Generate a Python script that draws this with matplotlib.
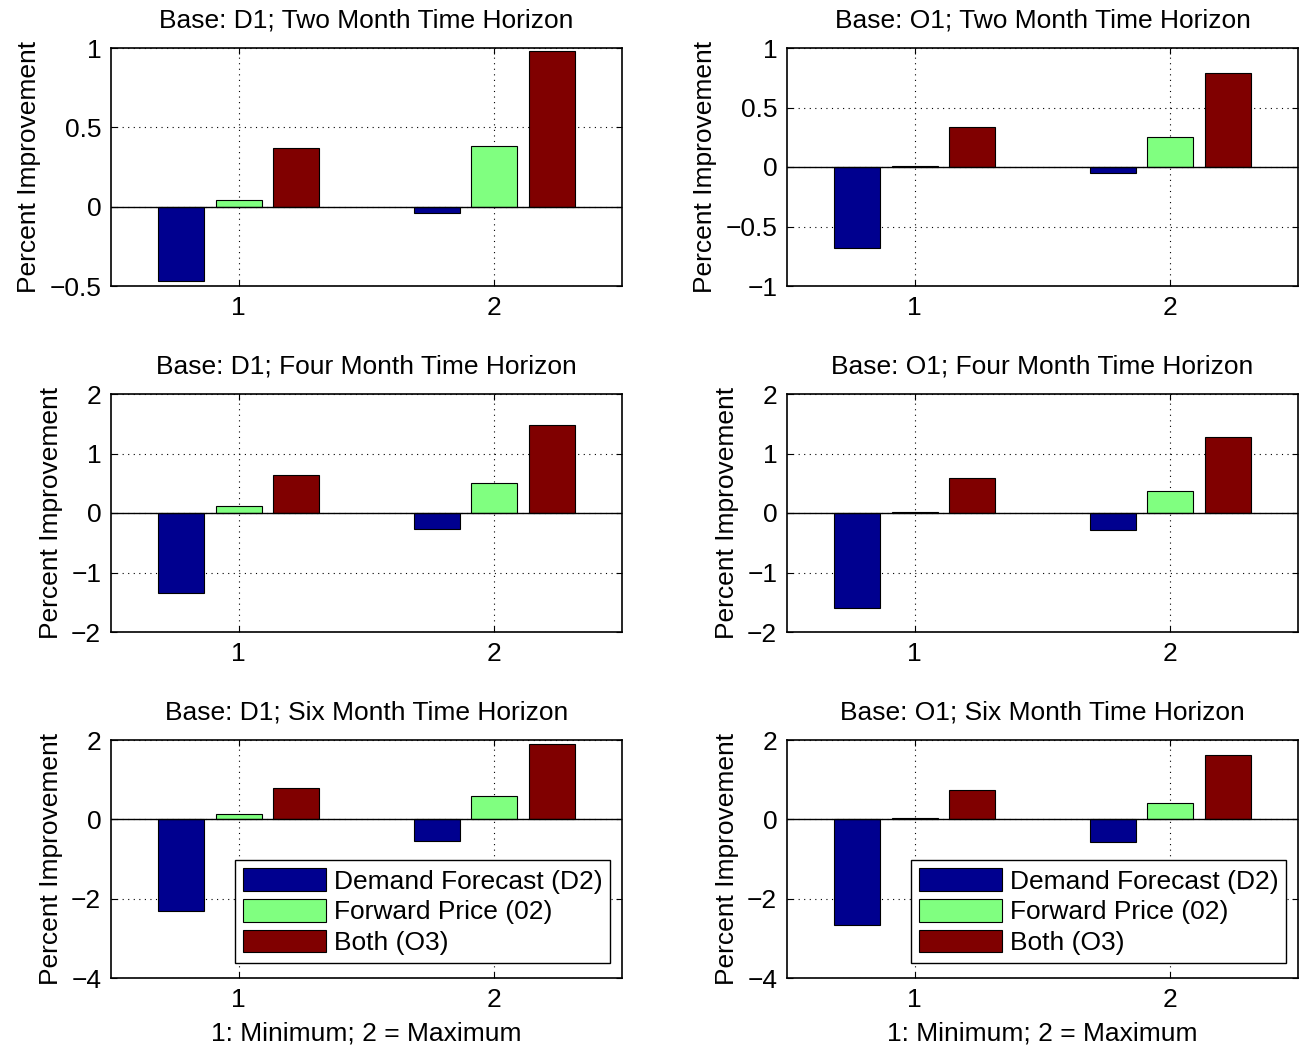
import matplotlib.pyplot as plt
import numpy as np

plt.rcParams['font.family'] = ['Liberation Sans', 'DejaVu Sans']
plt.rcParams['font.size'] = 19

# Eixo x: 1 = minimo, 2 = maximo
grupos = [1, 2]
series = ["Demand Forecast (D2)", "Forward Price (02)", "Both (O3)"]
cores = ['#00008F', '#80FF80', '#800000']

titulos = [
    "Base: D1; Two Month Time Horizon", "Base: O1; Two Month Time Horizon",
    "Base: D1; Four Month Time Horizon", "Base: O1; Four Month Time Horizon",
    "Base: D1; Six Month Time Horizon", "Base: O1; Six Month Time Horizon",
]

# valores por painel: [D2, O2, O3] para grupo 1 e grupo 2
d1_dois_meses = [[-0.47, 0.045, 0.37], [-0.04, 0.38, 0.98]]
o1_dois_meses = [[-0.68, 0.01, 0.34], [-0.05, 0.25, 0.79]]
d1_quatro_meses = [[-1.35, 0.11, 0.64], [-0.27, 0.50, 1.48]]
o1_quatro_meses = [[-1.59, 0.02, 0.59], [-0.29, 0.37, 1.28]]
d1_seis_meses = [[-2.32, 0.13, 0.79], [-0.55, 0.59, 1.90]]
o1_seis_meses = [[-2.67, 0.03, 0.74], [-0.57, 0.41, 1.63]]

dados = [d1_dois_meses, o1_dois_meses, d1_quatro_meses,
         o1_quatro_meses, d1_seis_meses, o1_seis_meses]

limites_y = [(-0.5, 1), (-1, 1), (-2, 2), (-2, 2), (-4, 2), (-4, 2)]
ticks_y = [[-0.5, 0, 0.5, 1], [-1, -0.5, 0, 0.5, 1], [-2, -1, 0, 1, 2],
           [-2, -1, 0, 1, 2], [-4, -2, 0, 2], [-4, -2, 0, 2]]

fig = plt.figure(figsize=(13.11, 10.5), dpi=100)
W, H = 1311, 1050
esquerdas = [111, 787]
largura = 511
topos = [48, 394, 740]
altura = 238

largura_barra = 0.18
deslocamentos = [-0.225, 0, 0.225]

for i in range(6):
    linha, coluna = divmod(i, 2)
    x0 = esquerdas[coluna]
    y0 = topos[linha]
    ax = fig.add_axes([x0 / W, 1 - (y0 + altura) / H, largura / W, altura / H])
    valores = np.array(dados[i])
    for k in range(3):
        ax.bar(np.array(grupos) + deslocamentos[k], valores[:, k], width=largura_barra,
               color=cores[k], edgecolor='black', linewidth=0.8, label=series[k], zorder=3)
    ax.axhline(0, color='black', linewidth=1, zorder=4)
    ax.set_xlim(0.5, 2.5)
    ax.set_ylim(*limites_y[i])
    ax.set_xticks(grupos)
    ax.set_yticks(ticks_y[i])
    ax.set_yticklabels([f"{t:g}".replace('-', '\u2212') for t in ticks_y[i]])
    ax.grid(True, linestyle=(0, (1, 4)), color='black', linewidth=0.8)
    ax.tick_params(direction='in', top=True, right=True, length=4, pad=7)
    for s in ax.spines.values():
        s.set_linewidth(1.2)
    ax.set_title(titulos[i], fontsize=19, pad=15)
    ax.set_ylabel("Percent Improvement", fontsize=19, labelpad=6)
    if linha == 2:
        ax.set_xlabel("1: Minimum; 2 = Maximum", fontsize=19, labelpad=7)
        leg = ax.legend(loc='lower right', bbox_to_anchor=(0.977, 0.063), fancybox=False,
                        edgecolor='black', framealpha=1, handlelength=3.15, handleheight=0.95,
                        handletextpad=0.3, borderpad=0.3, labelspacing=0.2, fontsize=19,
                        borderaxespad=0)
        leg.get_frame().set_linewidth(1)

fig.savefig("out.png", dpi=100)
